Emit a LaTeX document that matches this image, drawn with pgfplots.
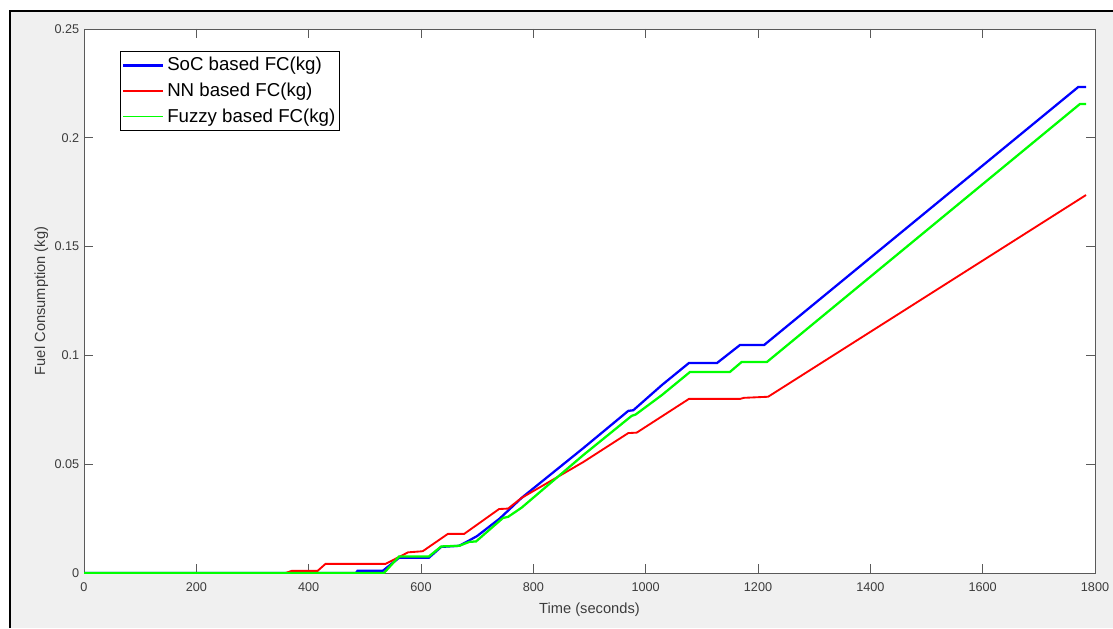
\documentclass[border=0pt]{standalone}
\usepackage{pgfplots}
\pgfplotsset{compat=1.18}
\usepackage{fontspec}
\setmainfont{Liberation Sans}
\definecolor{figbg}{RGB}{240,240,240}
\definecolor{axgray}{RGB}{90,90,90}
\definecolor{txtgray}{RGB}{60,60,60}
\definecolor{lgred}{RGB}{255,0,0}
\definecolor{lggreen}{RGB}{0,255,0}
\pgfplotsset{
  bluelegend/.style={legend image code/.code={\draw[draw=blue, line width=2.2pt] (0pt,0pt) -- (30pt,0pt);}},
  redlegend/.style={legend image code/.code={\draw[draw=lgred, line width=1.15pt] (0pt,0pt) -- (30pt,0pt);}},
  greenlegend/.style={legend image code/.code={\draw[draw=lggreen, line width=1.15pt] (0pt,0pt) -- (30pt,0pt);}},
}
\begin{document}
\begin{tikzpicture}
\fill[white] (0,0) rectangle (834.75pt,471pt);
\useasboundingbox (0,0) rectangle (834.75pt,471pt);
\fill[figbg] (7.5pt,0) rectangle (834.75pt,462.75pt);
\draw[black, line width=2.2pt] (7.5pt,0) -- (7.5pt,462.75pt) -- (834.75pt,462.75pt);
\begin{axis}[
  scale only axis,
  width=758.25pt, height=408pt,
  at={(63pt,41.25pt)}, anchor=south west,
  axis background/.style={fill=white},
  xmin=0, xmax=1800, ymin=0, ymax=0.25,
  xtick={0,200,...,1800},
  ytick={0,0.05,0.1,0.15,0.2,0.25},
  yticklabels={0,0.05,0.1,0.15,0.2,0.25},
  scaled y ticks=false,
  /pgf/number format/set thousands separator={},
  tick align=inside,
  major tick length=6.5pt,
  axis line style={axgray, line width=0.6pt},
  every tick/.style={axgray, line width=0.6pt},
  tick label style={font=\fontsize{9.5}{11}\selectfont, text=txtgray},
  xticklabel style={yshift=-4pt},
  /pgf/number format/assume math mode=true,
  xlabel={Time (seconds)},
  ylabel={Fuel Consumption (kg)},
  label style={font=\fontsize{11}{13}\selectfont, text=txtgray},
  xlabel style={yshift=-1pt},
  ylabel style={yshift=-2pt},
  legend style={at={(axis description cs:0.0356,0.9596)}, anchor=north west,
    draw=black, line width=0.5pt, font=\fontsize{14}{16}\selectfont,
    inner xsep=1pt, inner ysep=2.5pt, row sep=3.6pt},
  legend cell align=left,
]
\addplot[blue, line width=1.7pt, bluelegend] coordinates {
(0,0) (484,0) (487,0.001) (532,0.001) (561,0.007) (614,0.007) (636,0.012) (668,0.0125)
(684,0.0147) (700,0.017) (720,0.021) (740,0.025) (779,0.0345) (889,0.0574) (969,0.0745)
(978,0.0748) (1029,0.0864) (1077,0.0965) (1127,0.0965) (1168,0.1048) (1211,0.1048)
(1770,0.2233) (1784,0.2233)};
\addlegendentry{SoC based FC(kg)}
\addplot[red, line width=1.4pt, redlegend] coordinates {
(0,0) (359,0) (370,0.001) (416,0.001) (430,0.0042) (537,0.0042) (577,0.0095) (603,0.0100)
(648,0.018) (677,0.018) (739,0.0294) (755,0.0296) (779,0.0345) (889,0.051) (969,0.0643)
(984,0.0645) (1077,0.080) (1168,0.080) (1175,0.0805) (1218,0.081) (1784,0.1737)};
\addlegendentry{NN based FC(kg)}
\addplot[green, line width=1.7pt, greenlegend] coordinates {
(0,0) (534,0) (561,0.0076) (614,0.0076) (636,0.0122) (668,0.0125) (686,0.0143) (698,0.0145)
(746,0.0253) (755,0.0258) (779,0.030) (889,0.0542) (975,0.0722) (982,0.0728) (1029,0.0818)
(1079,0.0924) (1150,0.0924) (1171,0.097) (1216,0.097) (1773,0.2155) (1784,0.2155)};
\addlegendentry{Fuzzy based FC(kg)}
\end{axis}
\end{tikzpicture}
\end{document}
